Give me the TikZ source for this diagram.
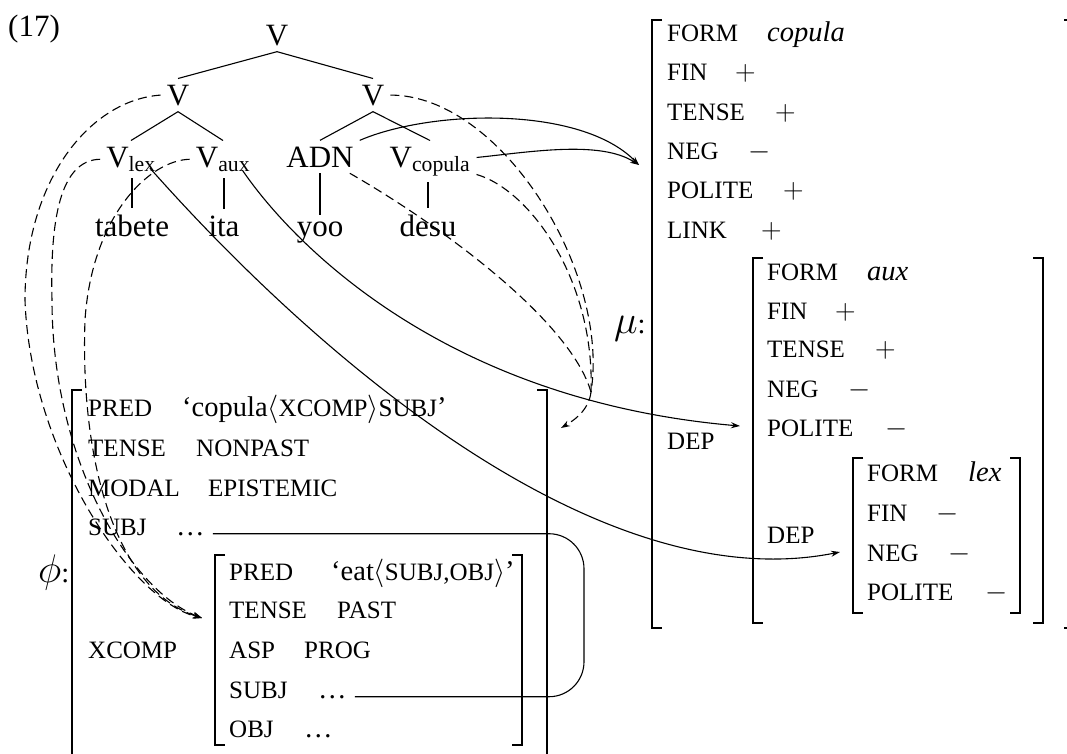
\RequirePackage{fix-cm}
\documentclass[tikz,border=0pt]{standalone}
\usepackage{fontspec}
\usepackage{graphicx}
\setmainfont{Liberation Serif}
\usetikzlibrary{arrows.meta}
\newcommand{\fsAtt}{\fontsize{25}{30}\selectfont}
\newcommand{\fsVal}{\fontsize{28.5}{34}\selectfont}
\newcommand{\fsTree}{\fontsize{31}{37}\selectfont}
\newcommand{\lbrk}[3]{\draw[brk] (#1+10,#2) -- (#1,#2) -- (#1,#3) -- (#1+10,#3);}
\newcommand{\rbrk}[3]{\draw[brk] (#1-10,#2) -- (#1,#2) -- (#1,#3) -- (#1-10,#3);}
\begin{document}
\begin{tikzpicture}[x=1pt,y=-1pt,
  lab/.style={font=\fsTree, inner sep=6pt, anchor=base},
  att/.style={font=\fsAtt, inner sep=0pt, anchor=base west},
  val/.style={font=\fsVal, inner sep=0pt, anchor=base west},
  ln/.style={line width=1.1pt},
  brk/.style={line width=2pt},
  dsh/.style={line width=1.1pt, dash pattern=on 9pt off 5pt},
  tip/.style={-{Stealth[length=9pt,width=6pt]}}]
\useasboundingbox (0,0) rectangle (1067,753);
\clip (0,0) rectangle (1067,753);

% example number
\node[font=\fsTree, inner sep=0pt, anchor=base west] (ex) at (8,36) {(17)};

% tree
\node[lab] (V0) at (277,45) {V};
\node[lab] (V1) at (178,105) {V};
\node[lab] (V2) at (373,105) {V};
\node[lab] (Vlex) at (131,167) {V\textsubscript{lex}};
\node[lab] (Vaux) at (223,167) {V\textsubscript{aux}};
\node[lab] (ADN) at (320,167) {ADN};
\node[lab] (Vcop) at (430,167) {V\textsubscript{copula}};
\node[lab] (w1) at (132,236) {tabete};
\node[lab] (w2) at (224,236) {ita};
\node[lab] (w3) at (320,236) {yoo};
\node[lab] (w4) at (428,236) {desu};

\draw[ln] (V0.south) -- (V1.north);
\draw[ln] (V0.south) -- (V2.north);
\draw[ln] (V1.south) -- (Vlex.north);
\draw[ln] (V1.south) -- (Vaux.north);
\draw[ln] (V2.south) -- (ADN.north);
\draw[ln] (V2.south) -- (Vcop.north);
\draw[ln] (w1.north |- Vlex.south) -- (w1.north);
\draw[ln] (w2.north |- Vaux.south) -- (w2.north);
\draw[ln] (w3.north |- ADN.south) -- (w3.north);
\draw[ln] (w4.north |- Vcop.south) -- (w4.north);

% mu structure
\node[val] (mu) at (614,333) {\scalebox{1.4}{$\mu$}:};
\lbrk{652}{20}{628}
\rbrk{1074}{20}{628}
\node[att] (m1) at (667,41.3) {FORM};   \node[val] (m1v) at (767,41.3) {\textit{copula}};
\node[att] (m2) at (667,80.7) {FIN};    \node[val] (m2v) at (735,80.7) {$+$};
\node[att] (m3) at (667,120.1) {TENSE}; \node[val] (m3v) at (775,120.1) {$+$};
\node[att] (m4) at (667,159.5) {NEG};   \node[val] (m4v) at (748,159.5) {$-$};
\node[att] (m5) at (667,198.9) {POLITE};\node[val] (m5v) at (783,198.9) {$+$};
\node[att] (m6) at (667,238.3) {LINK};  \node[val] (m6v) at (761,238.3) {$+$};
\node[att] (m7) at (667,449) {DEP};

\lbrk{753}{258}{623}
\rbrk{1043}{258}{623}
\node[att] (a1) at (767,280) {FORM};   \node[val] (a1v) at (867,280) {\textit{aux}};
\node[att] (a2) at (767,319) {FIN};    \node[val] (a2v) at (835,319) {$+$};
\node[att] (a3) at (767,357) {TENSE};  \node[val] (a3v) at (875,357) {$+$};
\node[att] (a4) at (767,397) {NEG};    \node[val] (a4v) at (848,397) {$-$};
\node[att] (a5) at (767,436) {POLITE}; \node[val] (a5v) at (885,436) {$-$};
\node[att] (a6) at (767,543) {DEP};

\lbrk{853}{458}{613}
\rbrk{1020}{458}{613}
\node[att] (l1) at (867,481) {FORM};   \node[val] (l1v) at (968,481) {\textit{lex}};
\node[att] (l2) at (867,521) {FIN};    \node[val] (l2v) at (936,521) {$-$};
\node[att] (l3) at (867,561) {NEG};    \node[val] (l3v) at (948,561) {$-$};
\node[att] (l4) at (867,600) {POLITE}; \node[val] (l4v) at (985,600) {$-$};

% phi structure
\node[val] (phi) at (38,582) {\scalebox{1.4}{$\phi$}:};
\lbrk{72}{390}{760}
\rbrk{547}{390}{760}
\node[att] (p1) at (88,416) {PRED};
\node[val] (p1v) at (182,416) {`copula$\langle${\fsAtt XCOMP}$\rangle${\fsAtt SUBJ}'};
\node[att] (p2) at (88,456) {TENSE};  \node[att] (p2v) at (196,456) {NONPAST};
\node[att] (p3) at (88,496) {MODAL};  \node[att] (p3v) at (208,496) {EPISTEMIC};
\node[att] (p4) at (88,535) {SUBJ};   \node[val] (sd1) at (176,535) {\dots};
\node[att] (p5) at (88,658) {XCOMP};

\lbrk{215}{555}{745}
\rbrk{522}{555}{745}
\node[att] (q1) at (229,580) {PRED};
\node[val] (q1v) at (331,580) {`eat$\langle${\fsAtt SUBJ,OBJ}$\rangle$'};
\node[att] (q2) at (229,618) {TENSE};  \node[att] (q2v) at (337,618) {PAST};
\node[att] (q3) at (229,658) {ASP};    \node[att] (q3v) at (304,658) {PROG};
\node[att] (q4) at (229,698) {SUBJ};   \node[val] (sd2) at (318,698) {\dots};
\node[att] (q5) at (229,737) {OBJ};    \node[val] (q5v) at (304,737) {\dots};

% structure sharing line
\coordinate (lpx) at (584,600);
\draw[ln, rounded corners=35pt] ([xshift=8pt]sd1.east) -- (sd1.east -| lpx) -- (sd2.east -| lpx) -- ([xshift=8pt]sd2.east);

% targets
\coordinate (muT) at (639,165);
\coordinate (auxT) at (740,426);
\coordinate (lexT) at (840,552);
\coordinate (cR) at (591,392);
\coordinate (phT) at (561,428);
\coordinate (xcT) at (202,618);

% solid mu projections
\draw[ln,tip] (ADN.north east) .. controls (430,110) and (580,105) .. (muT);
\draw[ln,tip] ([yshift=4pt]Vcop.east) .. controls (530,152) and (600,140) .. (muT);
\draw[ln,tip] ([xshift=-14pt,yshift=8pt]Vaux.south east) .. controls (290,240) and (440,400) .. (auxT);
\draw[ln,tip] ([xshift=-12pt,yshift=10pt]Vlex.south east) .. controls (320,360) and (600,600) .. (lexT);

% dashed phi projections (right)
\draw[dsh] (V2.east) .. controls (500,95) and (610,270) .. (cR);
\draw[dsh] ([yshift=8pt]Vcop.south east) .. controls (530,190) and (595,280) .. (cR);
\draw[dsh] ([xshift=-10pt]ADN.south east) .. controls (440,225) and (570,320) .. (cR);
\draw[dsh,tip] (cR) .. controls (589,408) and (578,418) .. (phT);

% dashed phi projections (left)
\draw[dsh,tip] (V1.west) .. controls (90,100) and (25,180) .. (25,300) .. controls (30,450) and (130,600) .. (xcT);
\draw[dsh,tip] (Vlex.west) .. controls (60,160) and (50,220) .. (52,300) .. controls (52,460) and (130,590) .. (xcT);
\draw[dsh,tip] (Vaux.west) .. controls (150,160) and (92,215) .. (85,320) .. controls (80,460) and (115,590) .. (xcT);
\end{tikzpicture}
\end{document}
